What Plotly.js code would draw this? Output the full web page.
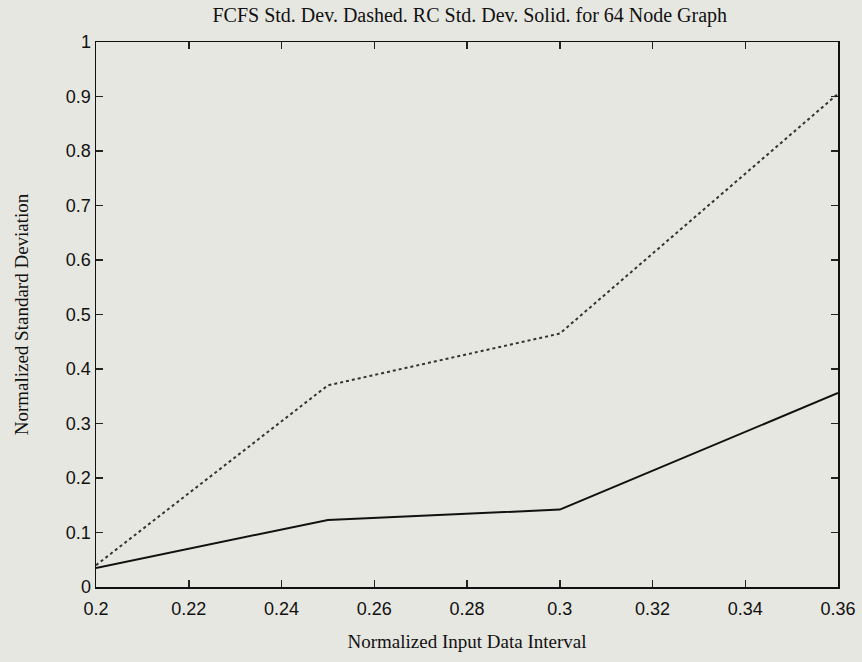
<!DOCTYPE html>
<html>
<head>
<meta charset="utf-8">
<script src="https://cdn.plot.ly/plotly-3.0.1.min.js"></script>
<style>
  html, body { margin: 0; padding: 0; background: #e7e7e1; }
  #chart { width: 862px; height: 662px; }
</style>
</head>
<body>
<div id="chart"></div>
<script>
// Normalized input data interval (x) for the 64 node graph
const intervals = [0.2, 0.25, 0.3, 0.36];
// FCFS standard deviation (dashed)
const fcfsStdDev = [0.04, 0.37, 0.465, 0.905];
// RC standard deviation (solid)
const rcStdDev = [0.035, 0.123, 0.142, 0.356];

const xTicks = [0.2, 0.22, 0.24, 0.26, 0.28, 0.3, 0.32, 0.34, 0.36];
const xTickText = ['0.2', '0.22', '0.24', '0.26', '0.28', '0.3', '0.32', '0.34', '0.36'];
const yTicks = [0, 0.1, 0.2, 0.3, 0.4, 0.5, 0.6, 0.7, 0.8, 0.9, 1];
const yTickText = ['0', '0.1', '0.2', '0.3', '0.4', '0.5', '0.6', '0.7', '0.8', '0.9', '1'];

const serif = 'Liberation Serif, Times New Roman, serif';
const sans = 'Liberation Sans, Arial, sans-serif';

const traces = [
  {
    x: intervals, y: fcfsStdDev, type: 'scatter', mode: 'lines',
    name: 'FCFS', line: { color: '#333333', width: 2, dash: 'dot' },
    hoverinfo: 'x+y'
  },
  {
    x: intervals, y: rcStdDev, type: 'scatter', mode: 'lines',
    name: 'RC', line: { color: '#111111', width: 2 },
    hoverinfo: 'x+y'
  }
];

const axisCommon = {
  showgrid: false, zeroline: false,
  showline: true, mirror: 'ticks', linecolor: '#111', linewidth: 1.5,
  ticks: 'inside', ticklen: 7, tickwidth: 1.5, tickcolor: '#222',
  tickfont: { family: sans, size: 18, color: '#111' },
  automargin: false
};

const layout = {
  width: 862, height: 662,
  paper_bgcolor: '#e7e7e1', plot_bgcolor: '#e7e7e1',
  margin: { l: 96, r: 24, t: 42, b: 75 },
  showlegend: false,
  title: {
    text: 'FCFS Std. Dev. Dashed. RC Std. Dev. Solid. for 64 Node Graph',
    font: { family: serif, size: 20, color: '#111' },
    x: 0.545, xanchor: 'center', y: 0.977, yanchor: 'middle'
  },
  xaxis: Object.assign({}, axisCommon, {
    range: [0.2, 0.36],
    tickmode: 'array', tickvals: xTicks, ticktext: xTickText,
    ticklabelstandoff: 5,
    title: { text: 'Normalized Input Data Interval', font: { family: serif, size: 19, color: '#111' }, standoff: 16 }
  }),
  yaxis: Object.assign({}, axisCommon, {
    range: [0, 1],
    tickmode: 'array', tickvals: yTicks, ticktext: yTickText,
    title: { text: 'Normalized Standard Deviation', font: { family: serif, size: 19, color: '#111' }, standoff: 32 }
  })
};

Plotly.newPlot('chart', traces, layout, { staticPlot: true, displayModeBar: false });
</script>
</body>
</html>
